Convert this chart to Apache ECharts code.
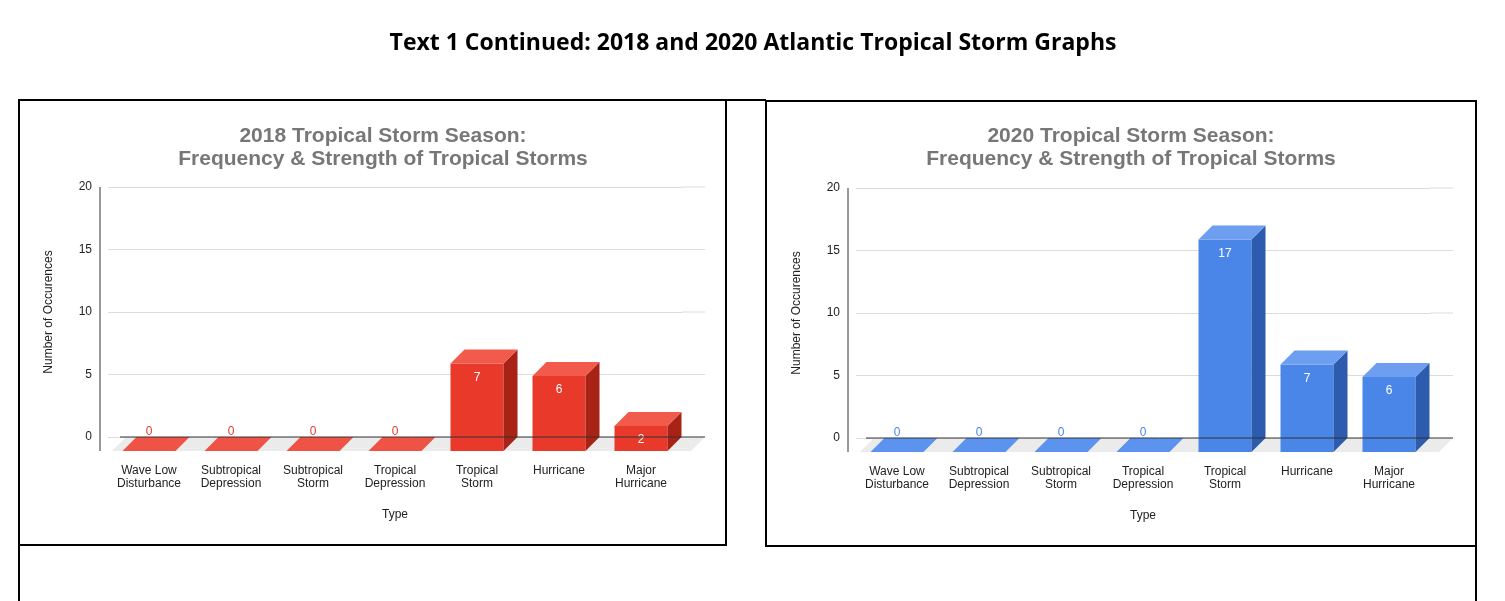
<!DOCTYPE html>
<html>
<head>
<meta charset="utf-8">
<script src="https://cdn.jsdelivr.net/npm/echarts@6/dist/echarts.min.js"></script>
<style>
html,body{margin:0;padding:0;background:#fff;}
#main{width:1505px;height:601px;}
</style>
</head>
<body>
<div id="main"></div>
<script>
// data
var categories = ['Wave Low\nDisturbance', 'Subtropical\nDepression', 'Subtropical\nStorm', 'Tropical\nDepression', 'Tropical\nStorm', 'Hurricane', 'Major\nHurricane'];
var values2018 = [0, 0, 0, 0, 7, 6, 2];
var values2020 = [0, 0, 0, 0, 17, 7, 6];
var yTicks = [0, 5, 10, 15, 20];

var myChart = echarts.init(document.getElementById('main'));

var D = 14; // 3d depth
function bar3d(cols) {
    return function (params, api) {
        var v = api.value(1);
        var c = api.coord([api.value(0), v]);
        var z = api.coord([api.value(0), 0]);
        var w = 53, x0 = c[0] - w / 2, x1 = c[0] + w / 2;
        var top = c[1] + D, bot = z[1] + D;
        var kids = [];
        if (v > 0) {
            kids.push({type: 'polygon', shape: {points: [[x0, top], [x1, top], [x1, bot], [x0, bot]]}, style: {fill: cols[0]}});
            kids.push({type: 'polygon', shape: {points: [[x1, top], [x1 + D, top - D], [x1 + D, bot - D], [x1, bot]]}, style: {fill: cols[1]}});
            kids.push({type: 'polygon', shape: {points: [[x0, top], [x0 + D, top - D], [x1 + D, top - D], [x1, top]]}, style: {fill: cols[2]}});
            kids.push({type: 'text', style: {text: String(v), x: c[0], y: top + 14, fill: '#fff', font: '12px Arial', align: 'center', verticalAlign: 'middle'}});
        } else {
            kids.push({type: 'polygon', shape: {points: [[x0, bot], [x0 + D, bot - D], [x1 + D, bot - D], [x1, bot]]}, style: {fill: cols[3]}});
            kids.push({type: 'text', style: {text: '0', x: c[0], y: z[1] - 5, fill: cols[0], font: '12px Arial', align: 'center', verticalAlign: 'middle'}});
        }
        return {type: 'group', children: kids};
    };
}

var red = ['#e8392a', '#a82216', '#f25a4b', '#ee5345'];
var blue = ['#4a86e8', '#2d5cae', '#6d9ef0', '#5c93ee'];

function grid(left, top) { return {left: left, top: top, width: 574, height: 250}; }
function xAx(i) {
    return {type: 'category', gridIndex: i, data: categories, axisLine: {show: false}, axisTick: {show: false},
        axisLabel: {color: '#222', fontSize: 12, fontFamily: 'Arial', lineHeight: 13, margin: 27, interval: 0},
        name: 'Type', nameLocation: 'middle', nameGap: 72, nameTextStyle: {color: '#222', fontSize: 12, fontFamily: 'Arial'}};
}
function yAx(i) {
    return {type: 'value', gridIndex: i, min: yTicks[0], max: yTicks[yTicks.length - 1], interval: 5,
        axisLabel: {color: '#222', fontSize: 12, fontFamily: 'Arial', margin: 16},
        splitLine: {lineStyle: {color: '#dcdcdc'}},
        name: 'Number of Occurences', nameLocation: 'middle', nameGap: 53, nameTextStyle: {color: '#222', fontSize: 12, fontFamily: 'Arial'}};
}
function floor(x0, x1, y) {
    return {type: 'polygon', shape: {points: [[x0, y + D], [x0 + D, y], [x1, y], [x1 - D, y + D]]}, style: {fill: '#ebebeb'}, z: -1};
}

var option = {
    animation: false,
    title: [
        {text: 'Text 1 Continued: 2018 and 2020 Atlantic Tropical Storm Graphs', left: 748, textAlign: 'center', top: 27, textStyle: {fontSize: 23, fontWeight: 'bold', color: '#000', fontFamily: 'Open Sans'}},
        {text: '2018 Tropical Storm Season:\nFrequency & Strength of Tropical Storms', left: 378, textAlign: 'center', top: 120, textStyle: {fontSize: 21, lineHeight: 23, fontWeight: 'bold', color: '#777', fontFamily: 'Arial'}},
        {text: '2020 Tropical Storm Season:\nFrequency & Strength of Tropical Storms', left: 1126, textAlign: 'center', top: 120, textStyle: {fontSize: 21, lineHeight: 23, fontWeight: 'bold', color: '#777', fontFamily: 'Arial'}}
    ],
    grid: [grid(108, 187), grid(856, 188)],
    xAxis: [xAx(0), xAx(1)],
    yAxis: [yAx(0), yAx(1)],
    series: [
        {type: 'custom', xAxisIndex: 0, yAxisIndex: 0, renderItem: bar3d(red), data: values2018.map(function (v, i) { return [i, v]; }), z: 5},
        {type: 'custom', xAxisIndex: 1, yAxisIndex: 1, renderItem: bar3d(blue), data: values2020.map(function (v, i) { return [i, v]; }), z: 5}
    ],
    graphic: [
        floor(112, 705, 437), floor(860, 1453, 438),
        {type: 'line', shape: {x1: 120, y1: 437, x2: 705, y2: 437}, style: {stroke: '#333', lineWidth: 1}, z: 10},
        {type: 'line', shape: {x1: 866, y1: 438, x2: 1453, y2: 438}, style: {stroke: '#333', lineWidth: 1}, z: 10},
        {type: 'line', shape: {x1: 682, y1: 187, x2: 705, y2: 187}, style: {stroke: '#dcdcdc'}},
        {type: 'line', shape: {x1: 682, y1: 249.5, x2: 705, y2: 249.5}, style: {stroke: '#dcdcdc'}},
        {type: 'line', shape: {x1: 682, y1: 312, x2: 705, y2: 312}, style: {stroke: '#dcdcdc'}},
        {type: 'line', shape: {x1: 682, y1: 374.5, x2: 705, y2: 374.5}, style: {stroke: '#dcdcdc'}},
        {type: 'line', shape: {x1: 1430, y1: 188, x2: 1453, y2: 188}, style: {stroke: '#dcdcdc'}},
        {type: 'line', shape: {x1: 1430, y1: 250.5, x2: 1453, y2: 250.5}, style: {stroke: '#dcdcdc'}},
        {type: 'line', shape: {x1: 1430, y1: 313, x2: 1453, y2: 313}, style: {stroke: '#dcdcdc'}},
        {type: 'line', shape: {x1: 1430, y1: 375.5, x2: 1453, y2: 375.5}, style: {stroke: '#dcdcdc'}},
        {type: 'line', shape: {x1: 100, y1: 187, x2: 100, y2: 451}, style: {stroke: '#333', lineWidth: 1}},
        {type: 'line', shape: {x1: 848, y1: 188, x2: 848, y2: 452}, style: {stroke: '#333', lineWidth: 1}},
        {type: 'rect', shape: {x: 19, y: 100, width: 707, height: 445}, style: {fill: 'none', stroke: '#000', lineWidth: 2}},
        {type: 'rect', shape: {x: 766, y: 101, width: 710, height: 445}, style: {fill: 'none', stroke: '#000', lineWidth: 2}},
        {type: 'polyline', shape: {points: [[19, 545], [19, 601]]}, style: {stroke: '#000', lineWidth: 2}},
        {type: 'polyline', shape: {points: [[1476, 546], [1476, 601]]}, style: {stroke: '#000', lineWidth: 2}},
        {type: 'line', shape: {x1: 726, y1: 100, x2: 766, y2: 100}, style: {stroke: '#000', lineWidth: 2}}
    ]
};
myChart.setOption(option);
</script>
</body>
</html>
